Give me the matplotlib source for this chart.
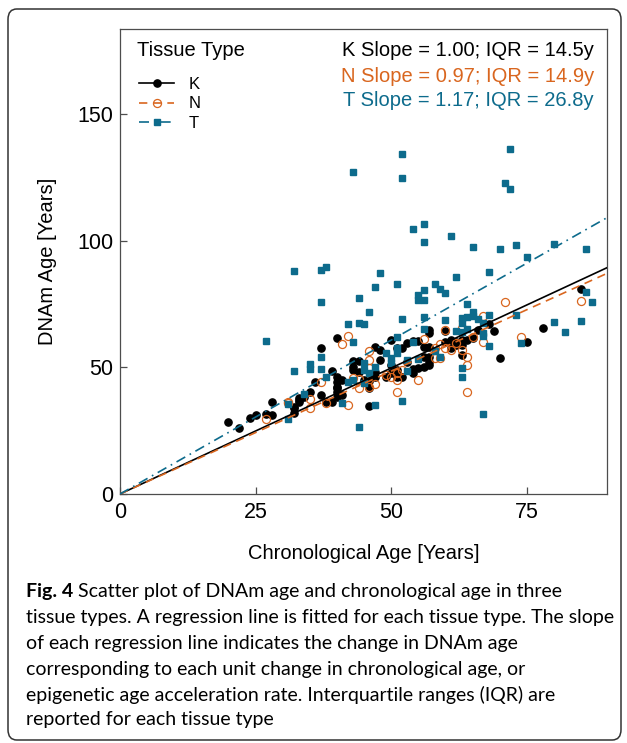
"""DNAm age vs chronological age scatter, three tissue types (Fig. 4)."""

import matplotlib
matplotlib.use("Agg")
import matplotlib.pyplot as plt
from matplotlib.patches import FancyBboxPatch
from matplotlib.lines import Line2D

# ── Data ──────────────────────────────────────────────────────

K_AGE = [20, 22, 24, 25, 27, 28, 28, 32, 32, 32, 33, 33, 33, 34, 35, 36, 37, 37,
         38, 39, 39, 40, 40, 40, 40, 40, 40, 40, 41, 41, 43, 43, 43, 44, 44, 45,
         46, 46, 46, 47, 47, 47, 48, 48, 49, 50, 50, 50, 51, 51, 51, 51, 52, 52,
         53, 53, 54, 54, 54, 55, 55, 56, 56, 56, 57, 57, 57, 57, 57, 57, 60, 60,
         61, 61, 62, 62, 63, 63, 63, 64, 65, 66, 68, 69, 70, 75, 78, 85]
K_DNAM = [28.3, 25.9, 30.1, 31.1, 31.6, 31.2, 36.3, 31.9, 33.8, 34.2, 36.4, 37.8,
          37.1, 38.4, 40.4, 44.3, 39.1, 57.5, 36.4, 36.4, 48.7, 38.4, 40.4, 61.5,
          46.3, 44.3, 42.4, 41.7, 39.1, 45.0, 49.0, 52.6, 50.3, 48.3, 52.6, 45.0,
          34.9, 44.6, 41.7, 58.2, 48.3, 46.3, 52.9, 56.9, 46.3, 47.6, 50.9, 60.8,
          49.0, 46.3, 47.6, 57.5, 57.5, 46.3, 59.5, 52.2, 49.2, 60.5, 47.6, 49.6,
          60.5, 50.0, 58.2, 54.2, 64.7, 63.4, 58.2, 54.0, 52.2, 50.9, 60.1, 64.4,
          57.5, 60.8, 58.8, 60.1, 54.9, 58.8, 60.8, 60.8, 61.5, 64.7, 67.0, 64.5,
          53.8, 60.1, 65.4, 80.8]

N_AGE = [27, 31, 31, 35, 35, 37, 38, 41, 42, 42, 43, 44, 44, 46, 46, 46, 46, 47,
         49, 50, 51, 51, 51, 52, 55, 56, 58, 58, 59, 59, 60, 60, 61, 62, 63, 63,
         64, 64, 64, 65, 67, 67, 71, 74, 85]
N_DNAM = [29.7, 36.4, 35.8, 37.5, 34.1, 44.3, 35.8, 59.4, 62.2, 35.1, 45.7, 45.3,
          41.7, 56.6, 53.0, 49.6, 42.4, 43.4, 47.0, 46.3, 47.6, 45.0, 40.4, 49.0,
          45.0, 61.1, 57.5, 53.6, 59.4, 53.6, 64.7, 57.5, 56.9, 59.7, 65.4, 56.9,
          54.2, 50.9, 40.2, 61.9, 70.2, 60.1, 76.0, 61.9, 76.1]

T_AGE = [27, 31, 31, 32, 32, 34, 35, 35, 37, 37, 37, 37, 38, 38, 41, 42, 42, 43,
         43, 43, 44, 44, 44, 45, 45, 45, 45, 46, 46, 47, 47, 47, 48, 49, 50, 50,
         51, 51, 51, 51, 52, 52, 52, 52, 53, 53, 54, 54, 55, 55, 55, 56, 56, 56,
         56, 56, 56, 58, 58, 59, 59, 60, 60, 61, 62, 62, 63, 63, 63, 63, 63, 64,
         64, 64, 65, 65, 65, 66, 67, 67, 67, 67, 68, 68, 68, 70, 71, 72, 72, 73,
         73, 74, 75, 80, 80, 82, 85, 86, 86, 87]
T_DNAM = [60.5, 35.5, 29.7, 48.7, 87.9, 39.5, 51.3, 49.5, 88.4, 75.8, 54.2, 49.5,
          89.6, 46.3, 35.8, 67.1, 44.3, 127.2, 60.0, 45.0, 77.3, 67.4, 26.5, 67.2,
          49.0, 51.6, 43.7, 72.0, 47.6, 81.7, 50.0, 35.1, 87.4, 55.5, 51.8, 53.7,
          82.8, 62.1, 57.5, 55.5, 134.1, 124.8, 69.0, 36.8, 48.7, 52.9, 104.6, 60.1,
          78.6, 76.6, 53.3, 106.6, 99.6, 80.5, 76.6, 69.8, 65.0, 83.0, 56.6, 80.9,
          54.2, 79.2, 68.8, 101.7, 85.8, 64.5, 69.4, 67.4, 64.1, 46.3, 49.6, 74.9,
          70.0, 65.0, 97.6, 71.7, 70.3, 69.0, 67.6, 63.7, 62.4, 31.7, 87.8, 70.7,
          58.4, 96.6, 122.9, 136.3, 120.4, 98.2, 70.7, 59.5, 93.6, 98.6, 67.8, 64.1,
          68.4, 96.7, 79.9, 75.9]

TISSUES = ["K", "N", "T"]
LINE_SLOPE = [0.995, 0.97, 1.215]          # fitted lines as drawn
SLOPE_TXT = ["1.00", "0.97", "1.17"]
IQR_TXT = ["14.5", "14.9", "26.8"]

X_TICKS = [0, 25, 50, 75]
Y_TICKS = [0, 50, 100, 150]

CAPTION = [
    "Scatter plot of DNAm age and chronological age in three",
    "tissue types. A regression line is fitted for each tissue type. The slope",
    "of each regression line indicates the change in DNAm age",
    "corresponding to each unit change in chronological age, or",
    "epigenetic age acceleration rate. Interquartile ranges (IQR) are",
    "reported for each tissue type",
]

# ── Styling ───────────────────────────────────────────────────

W, H = 627, 743
COLORS = {"K": "black", "N": "#D9661F", "T": "#0D6B8C"}
MARKERS = {"K": dict(marker="o", mfc="black", mec="black", ms=5.2),
           "N": dict(marker="o", mfc="none", mec="#D9661F", ms=5.8, mew=0.9),
           "T": dict(marker="s", mfc="#0D6B8C", mec="#0D6B8C", ms=4.8)}
LSTYLE = {"K": "-", "N": (0, (5, 3.5)), "T": (0, (6, 3, 1, 3))}
SPINE = "#4d4d4d"

plt.rcParams["font.family"] = ["Liberation Sans", "DejaVu Sans"]


def fx(px):
    return px / W


def fy(py):
    return 1 - py / H


fig = plt.figure(figsize=(W / 100, H / 100), dpi=100)
fig.patch.set_facecolor("white")

# outer rounded frame
frame = FancyBboxPatch((fx(8), fy(740)), fx(621) - fx(8), fy(9) - fy(740),
                       boxstyle="round,pad=0,rounding_size=0.014",
                       transform=fig.transFigure, facecolor="none",
                       edgecolor="#333333", linewidth=1.1)
fig.add_artist(frame)

ax = fig.add_axes([fx(120), fy(494), fx(607) - fx(120), fy(29) - fy(494)])

xmax, ymax = 89.8, 183.6
data = {"K": (K_AGE, K_DNAM), "N": (N_AGE, N_DNAM), "T": (T_AGE, T_DNAM)}

for t in TISSUES:
    ages, dnam = data[t]
    ax.plot(ages, dnam, linestyle="none", **MARKERS[t], zorder=3)

for t, slope in zip(TISSUES, LINE_SLOPE):
    ax.plot([0, xmax], [0, slope * xmax], color=COLORS[t], linestyle=LSTYLE[t],
            linewidth=1.2, zorder=4)

ax.set_xlim(0, xmax)
ax.set_ylim(0, ymax)
ax.set_xticks(X_TICKS)
ax.set_yticks(Y_TICKS)
ax.tick_params(direction="in", length=5, width=0.9, color=SPINE,
               labelsize=15.5, pad=5, labelcolor="black")
ax.tick_params(axis="x", pad=6)
for sp in ax.spines.values():
    sp.set_color(SPINE)
    sp.set_linewidth(0.9)

ax.set_xlabel("Chronological Age [Years]", fontsize=14.5, labelpad=15)
ax.set_ylabel("DNAm Age [Years]", fontsize=14.5, labelpad=14)

# legend
fig.text(fx(137), fy(50), "Tissue Type", fontsize=14.5, va="center", ha="left")
handles = [Line2D([], [], color=COLORS[t], linestyle=LSTYLE[t], linewidth=1.2,
                  **MARKERS[t]) for t in TISSUES]
ax.legend(handles, TISSUES, loc="upper left",
          bbox_to_anchor=(fx(139), fy(77)), bbox_transform=fig.transFigure,
          frameon=False, fontsize=12, borderpad=0, borderaxespad=0,
          handlelength=2.1, handletextpad=0.9, labelspacing=0.27)

# slope / IQR annotations
for i, t in enumerate(TISSUES):
    fig.text(fx(594), fy([51, 76, 101][i]),
             f"{t} Slope = {SLOPE_TXT[i]}; IQR = {IQR_TXT[i]}y",
             color=COLORS[t], fontsize=14.5, ha="right", va="center")

# caption
cap_font = ["Lato", "DejaVu Sans"]
cap_size = 14
line_y = [592, 618, 644, 670, 695, 720]
bold = fig.text(fx(26), fy(line_y[0]), "Fig. 4", fontsize=cap_size,
                fontweight="bold", family=cap_font, va="center", ha="left")
plt.annotate(" " + CAPTION[0], xy=(1, 0.5), xycoords=bold, va="center", ha="left",
             fontsize=cap_size, family=cap_font)
for txt, y in zip(CAPTION[1:], line_y[1:]):
    fig.text(fx(26), fy(y), txt, fontsize=cap_size, family=cap_font, va="center",
             ha="left")

fig.savefig("out.png", dpi=100)
